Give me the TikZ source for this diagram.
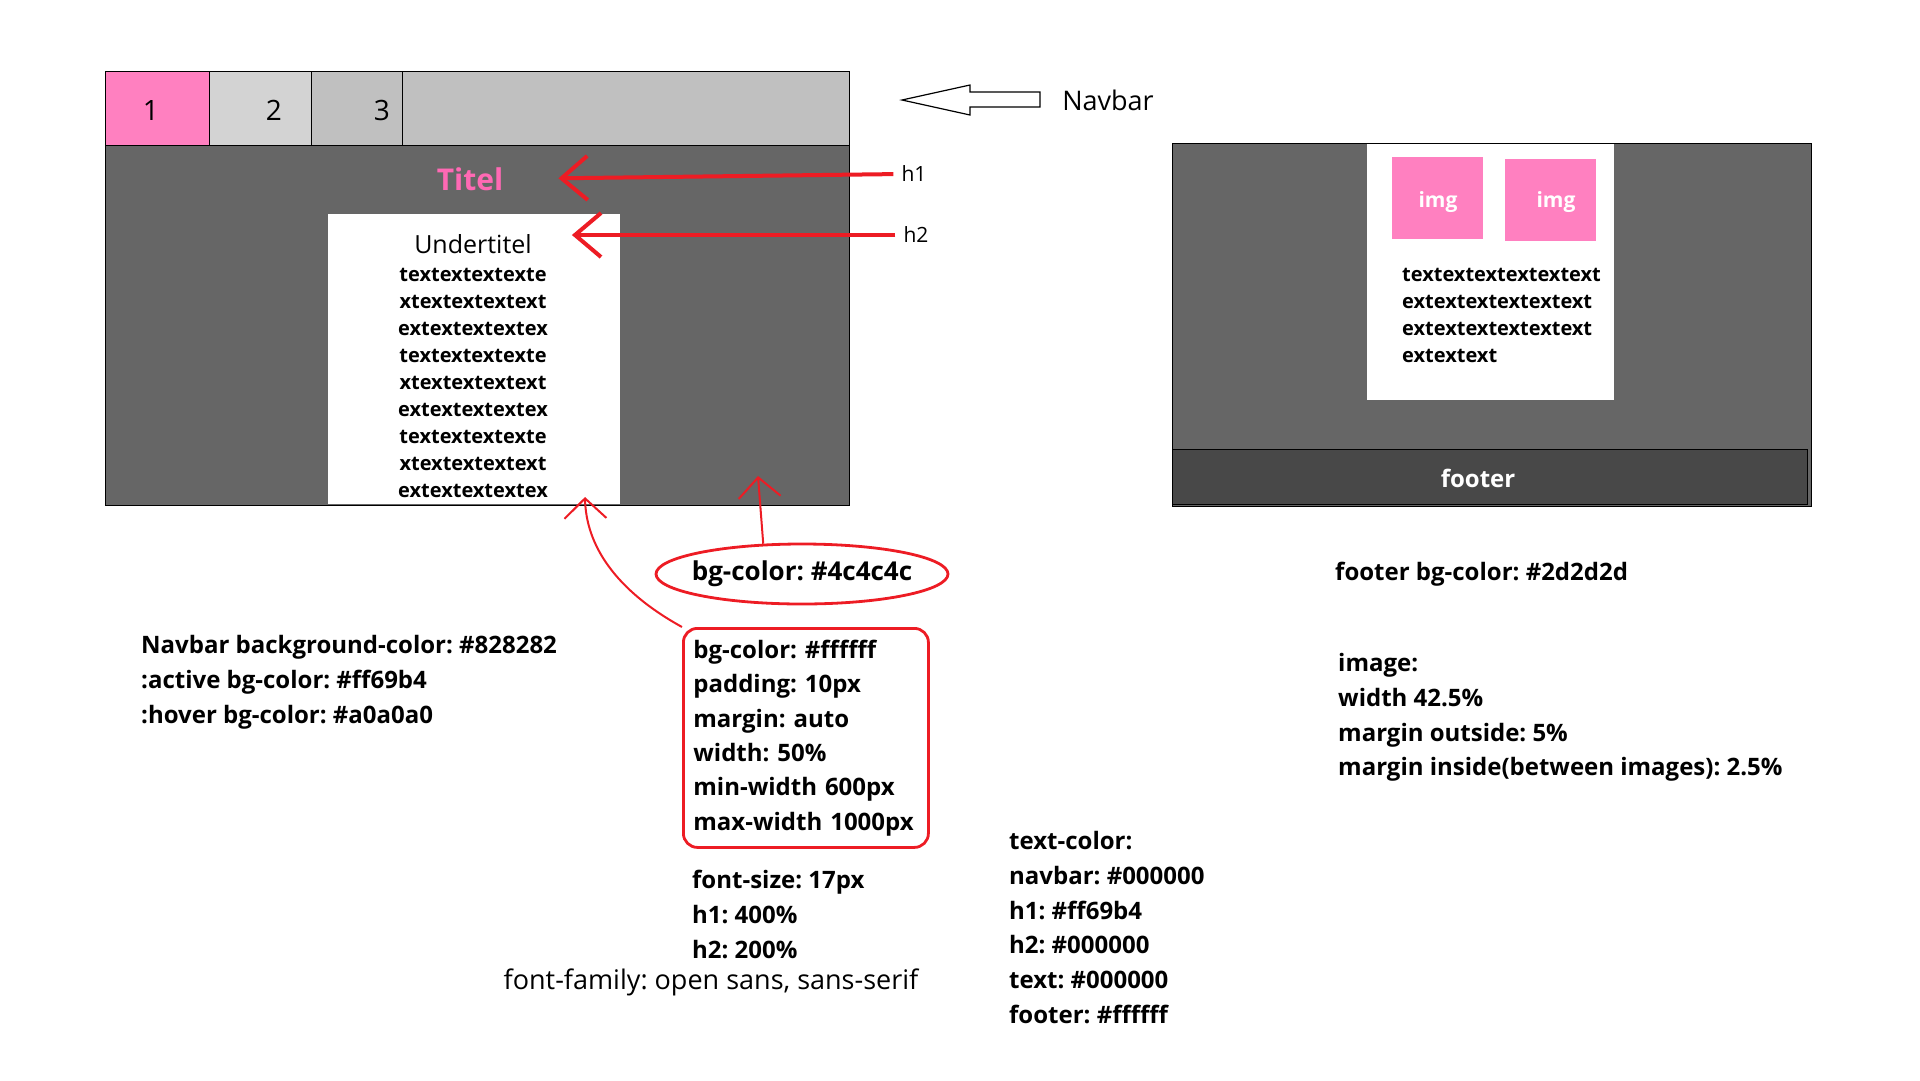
\documentclass[tikz,border=0pt]{standalone}
\usepackage{fontspec}
\setmainfont{Open Sans}
\usepackage{tikz}
\usetikzlibrary{arrows.meta, positioning, shapes.geometric, calc}
\definecolor{activepink}{HTML}{FF80C0}
\definecolor{titlepink}{HTML}{FF69B4}
\definecolor{hovergray}{HTML}{D3D3D3}
\definecolor{navgray}{HTML}{C0C0C0}
\definecolor{maingray}{HTML}{666666}
\definecolor{footgray}{HTML}{484848}
\definecolor{markred}{HTML}{ED1C24}
\frenchspacing
\tikzset{
  panel/.style={rectangle, draw=black, line width=1.4pt, inner sep=0pt, anchor=north west},
  tabbox/.style={panel, minimum height=74},
  sheet/.style={rectangle, fill=white, inner sep=0pt, anchor=north west},
  imgbox/.style={rectangle, fill=activepink, inner sep=0pt, anchor=north west},
  imglbl/.style={text=white, inner sep=0pt, font=\fontsize{21}{25}\selectfont\bfseries},
  body/.style={font=\fontsize{20}{27}\selectfont\bfseries, inner sep=0pt},
  note/.style={font=\fontsize{24}{34.8}\selectfont\bfseries, align=left,
    anchor=north west, inner sep=0pt},
  hand/.style={font=\fontsize{21}{25}\selectfont, inner sep=0pt},
  numlbl/.style={font=\fontsize{28}{30}\selectfont, inner sep=0pt},
  redarr/.style={-{Straight Barb[length=26pt, width=44pt]}, draw=markred, line width=4pt},
  redthin/.style={-{Straight Barb[length=20pt, width=42pt]}, draw=markred, line width=2pt}
}

\begin{document}
\begin{tikzpicture}[x=1pt, y=-1pt]
  \useasboundingbox (0,0) rectangle (1920,1080);

  % left page sketch
  \node[panel, fill=navgray, minimum width=744, minimum height=74] (navbar) at (105,71) {};
  \node[tabbox, fill=activepink, minimum width=104] (tab1) at (105,71) {};
  \node[tabbox, fill=hovergray, minimum width=102] (tab2) at (209,71) {};
  \node[tabbox, fill=navgray, minimum width=91] (tab3) at (311,71) {};
  \node[numlbl] (n1) at (151,110) {1};
  \node[numlbl] (n2) at (274,110) {2};
  \node[numlbl] (n3) at (382,110) {3};
  \node[panel, fill=maingray, minimum width=744, minimum height=360] (mainarea) at (105,145) {};
  \node[sheet, minimum width=292, minimum height=290] (content) at (328,214) {};
  \node[font=\fontsize{30}{36}\selectfont\bfseries, text=titlepink, inner sep=0pt] (titel) at (470,179) {Titel};
  \node[font=\fontsize{25}{30}\selectfont, inner sep=0pt] (undertitel) at (473,244) {Undertitel};
  \node[body, align=center, anchor=north] (ltext) at (473,268)
        {textextextexte\\xtextextextext\\extextextextex\\textextextexte\\xtextextextext\\extextextextex\\textextextexte\\xtextextextext\\extextextextex};

  % navbar pointer
  \node[font=\fontsize{27}{30}\selectfont, inner sep=0pt] (navlbl) at (1108,100) {Navbar};
  \draw[line width=1.2pt] (902,100) -- (970,85) -- (970,92) -- (1040,92) -- (1040,107)
        -- (970,107) -- (970,115) -- cycle;

  % heading markers
  \node[hand] (h1lbl) at (914,174) {h1};
  \node[hand] (h2lbl) at (916,235) {h2};
  \draw[redarr, shorten <=8pt, shorten >=55pt] (h1lbl.west) -- (titel.east);
  \draw[redarr, shorten <=8pt, shorten >=40pt] (h2lbl.west) -- (undertitel.east |- h2lbl.west);

  % right page sketch
  \node[panel, fill=maingray, minimum width=639, minimum height=363] (rightarea) at (1172,143) {};
  \node[sheet, minimum width=247, minimum height=256] (rsheet) at (1367,144) {};
  \node[imgbox, minimum width=91, minimum height=82] (img1) at (1392,157) {};
  \node[imgbox, minimum width=91, minimum height=82] (img2) at (1505,159) {};
  \node[imglbl] at (1438,202) {img};
  \node[imglbl] at (1556,202) {img};
  \node[body, align=left, anchor=north west] (rtext) at (1402,268)
        {textextextextextext\\extextextextextext\\extextextextextext\\extextext};
  \node[panel, fill=footgray, minimum width=635, minimum height=55] (footer) at (1172,449) {};
  \node[text=white, inner sep=0pt, font=\fontsize{24}{28}\selectfont\bfseries] (footlbl) at (1478,478) {footer};

  % css notes
  \node[ellipse, draw=markred, line width=2.8pt, minimum width=292, minimum height=60,
        inner xsep=-8pt, inner ysep=0pt, font=\fontsize{26}{30}\selectfont\bfseries] (bgdark) at (802,574) {bg-color: \#4c4c4c};
  \node[rectangle, rounded corners=14pt, draw=markred, line width=2.8pt, anchor=north west,
        minimum height=219, text width=225, inner xsep=10pt, align=left,
        font=\fontsize{24}{34.4}\selectfont\bfseries] (props) at (682,627)
        {bg-color: \#ffffff\\padding: 10px\\margin: auto\\width: 50\%\\min-width 600px\\max-width 1000px};
  \coordinate (darktip) at (758,476);
  \coordinate (sheettip) at (585,497);
  \draw[redthin] (bgdark.142) -- (darktip);
  \draw[redthin] (props.north west) .. controls (615,590) and (586,545) .. (sheettip);

  \node[note] (navnote) at (141,635)
        {Navbar background-color: \#828282\\:active bg-color: \#ff69b4\\:hover bg-color: \#a0a0a0};
  \node[note] (sizes) at (692,870) {font-size: 17px\\h1: 400\%\\h2: 200\%};
  \node[font=\fontsize{27}{30}\selectfont, inner sep=0pt] (family) at (711,982)
        {font-family: open sans, sans-serif};
  \node[note] (colors) at (1009,831)
        {text-color:\\navbar: \#000000\\h1: \#ff69b4\\h2: \#000000\\text: \#000000\\footer: \#ffffff};
  \node[note] (footnote) at (1335,562) {footer bg-color: \#2d2d2d};
  \node[note] (imgnote) at (1338,653)
        {image:\\width 42.5\%\\margin outside: 5\%\\margin inside(between images): 2.5\%};
\end{tikzpicture}
\end{document}
